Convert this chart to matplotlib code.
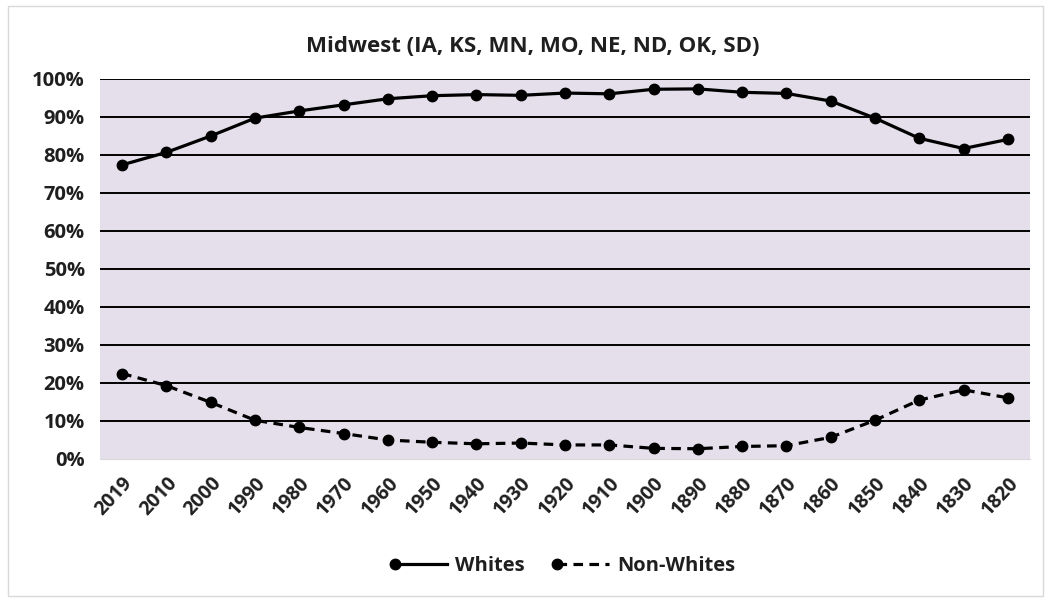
import matplotlib
matplotlib.use("Agg")
import matplotlib.pyplot as plt
from matplotlib.patches import Rectangle
from matplotlib.lines import Line2D

years = ["2019", "2010", "2000", "1990", "1980", "1970", "1960", "1950", "1940", "1930",
         "1920", "1910", "1900", "1890", "1880", "1870", "1860", "1850", "1840", "1830", "1820"]
whites = [77.4, 80.7, 85.0, 89.7, 91.6, 93.2, 94.8, 95.6, 95.9, 95.7,
          96.3, 96.1, 97.3, 97.4, 96.5, 96.2, 94.2, 89.7, 84.4, 81.7, 84.1]
non_whites = [22.5, 19.3, 14.9, 10.2, 8.3, 6.7, 5.0, 4.4, 4.0, 4.2,
              3.7, 3.7, 2.8, 2.7, 3.3, 3.5, 5.7, 10.2, 15.5, 18.2, 16.1]
y_ticks = [0, 10, 20, 30, 40, 50, 60, 70, 80, 90, 100]
title = "Midwest (IA, KS, MN, MO, NE, ND, OK, SD)"

plt.rcParams['font.family'] = ['Open Sans', 'DejaVu Sans']
TXT = "#1f1f1f"
DASH = (0, (3.0, 2.0))

W, H = 1051, 602
fig = plt.figure(figsize=(W / 100, H / 100), dpi=100)
fig.patches.append(Rectangle((8 / W, 6 / H), (1043 - 8) / W, (596 - 6) / H,
                             transform=fig.transFigure, fill=False,
                             edgecolor="#d9d9d9", linewidth=1.0))

left, right, top, bottom = 100, 1030, 79, 459
ax = fig.add_axes([left / W, 1 - bottom / H, (right - left) / W, (bottom - top) / H])
ax.set_facecolor("#E4DFEB")
x = list(range(len(years)))
ax.plot(x, whites, color="black", lw=2.3, marker="o", ms=7.5, label="Whites", zorder=3)
ax.plot(x, non_whites, color="black", lw=2.3, ls=DASH, marker="o", ms=7.5,
        label="Non-Whites", zorder=3)
ax.set_xlim(-0.5, len(years) - 0.5)
ax.set_ylim(0, 100)
ax.set_yticks(y_ticks)
ax.set_yticklabels([f"{v}%" for v in y_ticks], fontsize=14.5, fontweight="bold", color=TXT)
ax.set_xticks(x)
ax.set_xticklabels(years, rotation=47, ha="right", rotation_mode="anchor",
                   fontsize=14, fontweight="bold", color=TXT)
ax.tick_params(length=0)
ax.tick_params(axis="y", pad=11)
ax.tick_params(axis="x", pad=10)
for v in y_ticks[1:]:
    ax.axhline(v, color="black", lw=1.4, zorder=1)
for s in ax.spines.values():
    s.set_visible(False)
ax.spines["bottom"].set_visible(True)
ax.spines["bottom"].set_color("#d9d9d9")

fig.text(533 / W, 1 - 47 / H, title, ha="center", va="center", fontsize=16,
         fontweight="bold", color=TXT)

handles = [Line2D([], [], color="black", lw=2.3, marker="o", ms=7.5),
           Line2D([], [], color="black", lw=2.3, ls=DASH, marker="o", ms=7.5)]
leg = fig.legend(handles, ["Whites", "Non-Whites"], loc="center", bbox_to_anchor=(565 / W, 1 - 566 / H),
                 ncol=2, frameon=False, prop={"size": 14.5, "weight": "bold"},
                 handlelength=2.6, columnspacing=1.6, handletextpad=0.4)
for t in leg.get_texts():
    t.set_color(TXT)
for h in leg.legend_handles:
    h.set_markevery([0])

fig.savefig("out.png", dpi=100)
